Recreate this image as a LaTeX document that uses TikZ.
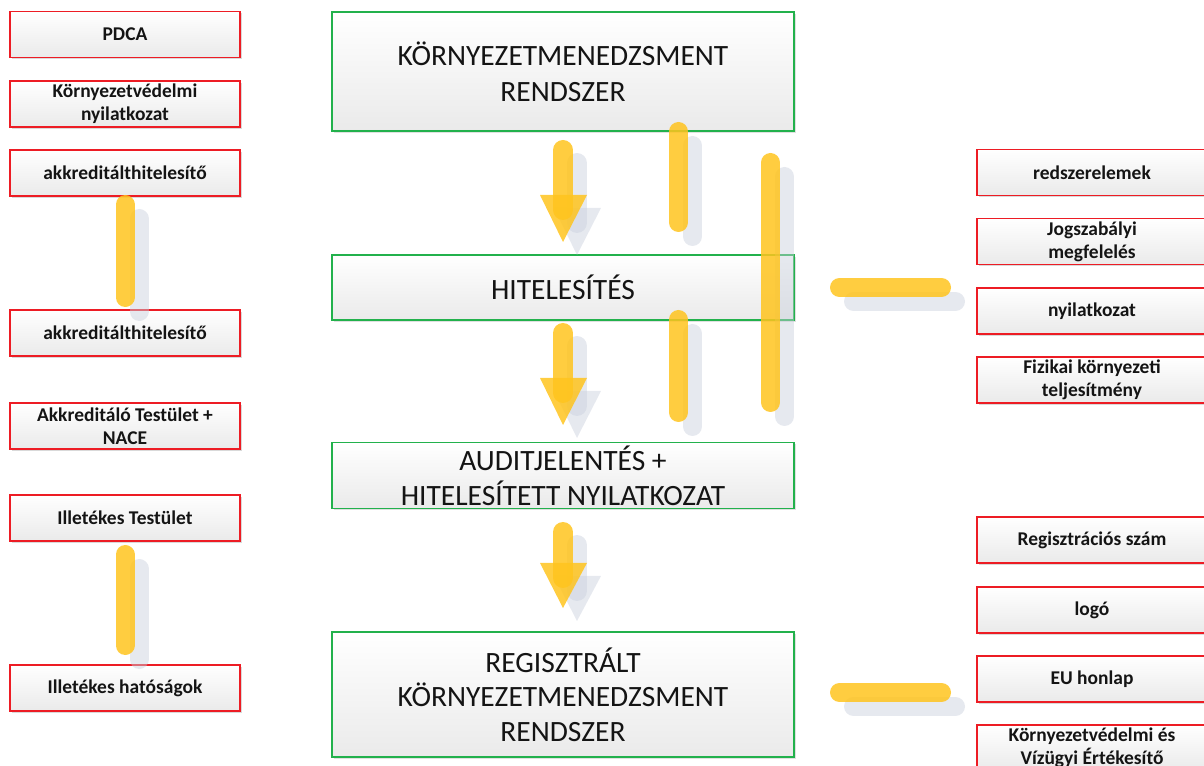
\documentclass[tikz,border=0pt]{standalone}
\usepackage{fontspec}
\setmainfont{Carlito}
\usetikzlibrary{shadows}

\definecolor{boxgreen}{RGB}{34,177,76}
\definecolor{boxred}{RGB}{237,28,36}
\definecolor{baryellow}{RGB}{255,196,30}
\definecolor{bargray}{RGB}{200,207,220}
\definecolor{fillbottom}{RGB}{234,234,234}
\definecolor{inktext}{RGB}{20,20,20}

\tikzset{
  mainbox/.style={draw=boxgreen, line width=1.4pt, top color=white, bottom color=fillbottom,
    minimum width=346.5pt, inner sep=0pt, align=center, text=inktext,
    font=\fontsize{22.1}{27}\selectfont,
    drop shadow={shadow xshift=1.2pt, shadow yshift=-1.2pt, opacity=0.12, fill=black}},
  tagbox/.style={draw=boxred, line width=1.3pt, top color=white, bottom color=fillbottom,
    minimum width=172.5pt, minimum height=34.5pt, inner sep=0pt, align=center, text=inktext,
    font=\bfseries\fontsize{14.6}{17.3}\selectfont,
    drop shadow={shadow xshift=1.2pt, shadow yshift=-1.2pt, opacity=0.15, fill=black}},
  yellowbar/.style={draw=baryellow, draw opacity=0.85, line width=14.25pt, line cap=round},
  shadowbar/.style={draw=bargray, draw opacity=0.45, line width=14.25pt, line cap=round},
  yellowhead/.style={fill=baryellow, fill opacity=0.85},
  shadowhead/.style={fill=bargray, fill opacity=0.45},
}

\begin{document}
\begin{tikzpicture}[x=0.75pt, y=-0.75pt]
\useasboundingbox (0,0) rectangle (1204,766);

% central process boxes
\node[mainbox, minimum height=89.25pt] (ems) at (563,71.5) {KÖRNYEZETMENEDZSMENT\\RENDSZER};
\node[mainbox, minimum height=48.75pt] (hit) at (563,287.5) {HITELESÍTÉS};
\node[mainbox, minimum height=49.5pt, font=\fontsize{22.1}{26.3}\selectfont] (audit) at (563,475.5)
  {AUDITJELENTÉS +\\HITELESÍTETT NYILATKOZAT};
\node[mainbox, minimum height=93.75pt, font=\fontsize{22.1}{26}\selectfont] (reg) at (563,694.5)
  {REGISZTRÁLT\\KÖRNYEZETMENEDZSMENT\\RENDSZER};

% left column
\node[tagbox] (pdca) at (125,34.5) {PDCA};
\node[tagbox] (kvny) at (125,104) {Környezetvédelmi\\nyilatkozat};
\node[tagbox] (akk1) at (125,173) {akkreditálthitelesítő};
\node[tagbox] (akk2) at (125,333) {akkreditálthitelesítő};
\node[tagbox] (nace) at (125,426) {Akkreditáló Testület +\\NACE};
\node[tagbox] (illt) at (125,518) {Illetékes Testület};
\node[tagbox] (illh) at (125,688) {Illetékes hatóságok};

% right column
\node[tagbox] (elem) at (1092,172.5) {redszerelemek};
\node[tagbox] (jog) at (1092,241.5) {Jogszabályi\\megfelelés};
\node[tagbox] (nyil) at (1092,311) {nyilatkozat};
\node[tagbox] (fiz) at (1092,380) {Fizikai környezeti\\teljesítmény};
\node[tagbox] (rsz) at (1092,540) {Regisztrációs szám};
\node[tagbox] (logo) at (1092,610) {logó};
\node[tagbox] (eu) at (1092,679) {EU honlap};
\node[tagbox] (kvv) at (1092,748) {Környezetvédelmi és\\Vízügyi Értékesítő};

% rounded bars with their offset shadows
\foreach \n/\xa/\ya/\xb/\yb in {
    lb1/125/204.5/125/297.5,
    lb2/125/554.5/125/645.5,
    rb1/678.5/131.5/678.5/222.5,
    rb2/678.5/319.5/678.5/412.5,
    rb3/770.5/162.5/770.5/402.5,
    hb1/839.5/287.5/941.5/287.5,
    hb2/839.5/692.5/941.5/692.5}{
  \coordinate (\n-a) at (\xa,\ya);
  \coordinate (\n-b) at (\xb,\yb);
  \draw[shadowbar] ([shift={(14,14)}]\n-a) -- ([shift={(14,14)}]\n-b);
  \draw[yellowbar] (\n-a) -- (\n-b);
}

% downward arrows between the process boxes
\foreach \n/\top/\base/\tip in {ar1/150/195/242, ar2/333/378/425, ar3/532/563/608}{
  \coordinate (\n-s) at (563,\top);
  \coordinate (\n-e) at (563,\base+15);
  \coordinate (\n-l) at (540,\base);
  \coordinate (\n-r) at (587,\base);
  \coordinate (\n-t) at (563,\tip);
  \draw[shadowbar, line width=15pt] ([shift={(14,13)}]\n-s) -- ([shift={(14,13)}]\n-e);
  \fill[shadowhead] ([shift={(14,13)}]\n-l) -- ([shift={(14,13)}]\n-r)
                    -- ([shift={(14,13)}]\n-t) -- cycle;
  \draw[yellowbar, line width=15pt] (\n-s) -- (\n-e);
  \fill[yellowhead] (\n-l) -- (\n-r) -- (\n-t) -- cycle;
}
\end{tikzpicture}
\end{document}
